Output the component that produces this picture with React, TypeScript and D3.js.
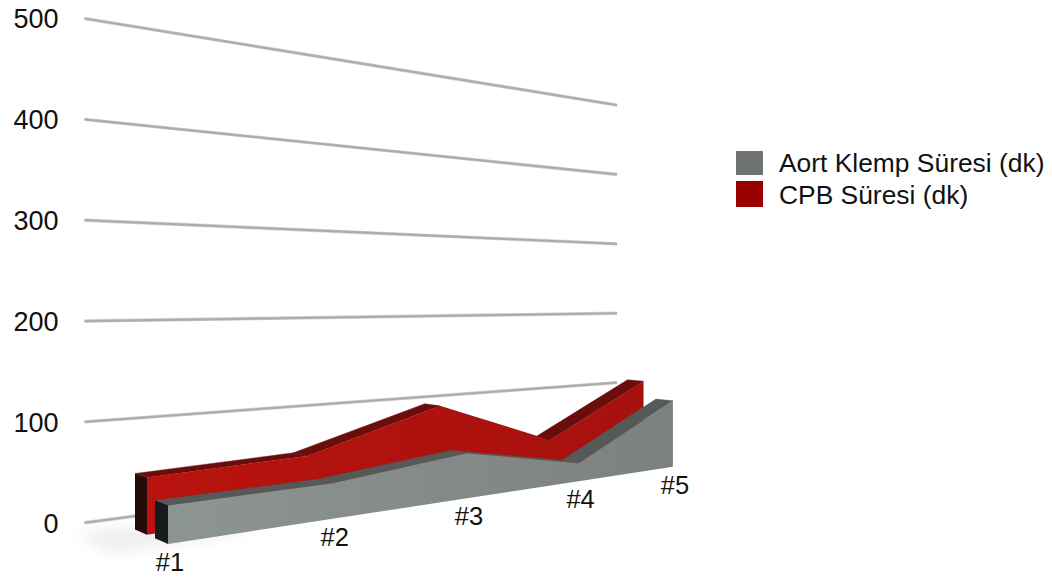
import React from "react";
import * as d3 from "d3";

const categories = ["#1", "#2", "#3", "#4", "#5"];
const aortKlemp = [35, 36, 50, 22, 87];
const cpb = [54, 58, 99, 45, 110];
const gridValues = [0, 100, 200, 300, 400, 500];
const legendNames = ["Aort Klemp Süresi (dk)", "CPB Süresi (dk)"];
const FONT = '"Liberation Sans", Arial, sans-serif';

// Perspective camera: two vanishing points on a shared horizon, anchored at the
// near-left floor corner of the front series.
const HORIZON = 296;
const VP_ROW = 1791;
const VP_DEPTH = -400;
const ANCHOR = { x: 168, y: 544 };
const ROW_WEIGHT = 0.1129;
const PX_PER_UNIT = 1.103;

const uScale = d3.scalePoint<string>().domain(categories).range([0, 4]);
const liftScale = d3.scaleLinear().domain([0, 500]).range([0, 500 * PX_PER_UNIT]);

// Depth weights of each slab's faces and of the back wall.
const WALL = { depth: 0.111, uStart: -0.154, uEnd: 4.24 };
const GREY_SLAB = { front: 0, back: 0.0234 };
const RED_SLAB = { front: 0.0384, back: 0.0617 };
const RED_REACH = 0.995;

function project(u: number, depth: number, value: number): [number, number] {
  const a = ROW_WEIGHT * u;
  const w = 1 + a + depth;
  return [
    (ANCHOR.x + a * VP_ROW + depth * VP_DEPTH) / w,
    (ANCHOR.y + (a + depth) * HORIZON - liftScale(value)) / w,
  ];
}

const polyline = d3.line<[number, number]>();
const closed = (pts: [number, number][]) => polyline(pts) + "Z";

function Slab({ values, slab, faceId, topFill, sideFill, reach = 1 }: {
  values: number[];
  slab: { front: number; back: number };
  faceId: string;
  topFill: string;
  sideFill: string;
  reach?: number;
}) {
  const us = categories.map((c) => (uScale(c) as number) * reach);
  const top = (d: number) => us.map((u, i) => project(u, d, values[i]));
  const floor = (d: number) => us.map((u) => project(u, d, 0));
  const frontTop = top(slab.front);
  const backTop = top(slab.back);
  const frontFloor = floor(slab.front);
  const backFloor = floor(slab.back);
  return (
    <g>
      {us.slice(0, -1).map((_, i) => (
        <path
          key={i}
          d={closed([backTop[i], backTop[i + 1], frontTop[i + 1], frontTop[i]])}
          fill={topFill}
          stroke={topFill}
          strokeWidth={0.4}
        />
      ))}
      <path
        d={closed([backTop[0], frontTop[0], frontFloor[0], backFloor[0]])}
        fill={sideFill}
      />
      <path
        d={closed([...frontTop, ...[...frontFloor].reverse()])}
        fill={`url(#${faceId})`}
      />
    </g>
  );
}

export default function App() {
  const labelX = 58.5;
  const floorShadow = closed([
    project(-0.3, 0.0, 0),
    project(0.5, 0.0, 0),
    project(0.5, 0.06, 0),
    project(-0.3, 0.08, 0),
  ]);
  return (
    <svg
      width={1052}
      height={580}
      style={{ position: "absolute", left: 0, top: 0, background: "#fff" }}
      fontFamily={FONT}
      fill="#111"
    >
      <defs>
        <linearGradient id="redFace" gradientUnits="userSpaceOnUse" x1={147} y1={470} x2={645} y2={470}>
          <stop offset="0" stopColor="#b9130f" />
          <stop offset="1" stopColor="#a6110d" />
        </linearGradient>
        <linearGradient id="greyFace" gradientUnits="userSpaceOnUse" x1={168} y1={480} x2={673} y2={480}>
          <stop offset="0" stopColor="#8d9592" />
          <stop offset="1" stopColor="#7b817e" />
        </linearGradient>
        <filter id="soften" x="-40%" y="-150%" width="180%" height="400%">
          <feGaussianBlur stdDeviation="8" />
        </filter>
      </defs>

      {gridValues.map((v) => {
        const start = project(WALL.uStart, WALL.depth, v);
        const end = project(WALL.uEnd, WALL.depth, v);
        const segment = polyline([start, end]) as string;
        return (
          <g key={v}>
            <path d={segment} stroke="#d2d2d2" strokeWidth={3.4} fill="none" />
            <path d={segment} stroke="#adadad" strokeWidth={2.2} fill="none" />
            <text x={labelX} y={start[1] + 10} textAnchor="end" fontSize={27}>
              {v}
            </text>
          </g>
        );
      })}

      <path d={floorShadow} fill="#000" opacity={0.07} filter="url(#soften)" />

      <Slab values={cpb} slab={RED_SLAB} faceId="redFace" topFill="#6a0d0b" sideFill="#220b09" reach={RED_REACH} />
      <Slab values={aortKlemp} slab={GREY_SLAB} faceId="greyFace" topFill="#555a58" sideFill="#171b1a" />

      {categories.map((c) => {
        const [x, y] = project(uScale(c) as number, GREY_SLAB.front, 0);
        return (
          <text key={c} x={x + 2} y={y + 27} textAnchor="middle" fontSize={25.5}>
            {c}
          </text>
        );
      })}

      {legendNames.map((name, i) => (
        <g key={name} transform={`translate(736,${151 + i * 30})`}>
          <rect width={27} height={i === 0 ? 24 : 26} fill={i === 0 ? "#6f7371" : "#990000"} />
          <text x={43} y={21 + i * 2} fontSize={26.4}>
            {name}
          </text>
        </g>
      ))}
    </svg>
  );
}
